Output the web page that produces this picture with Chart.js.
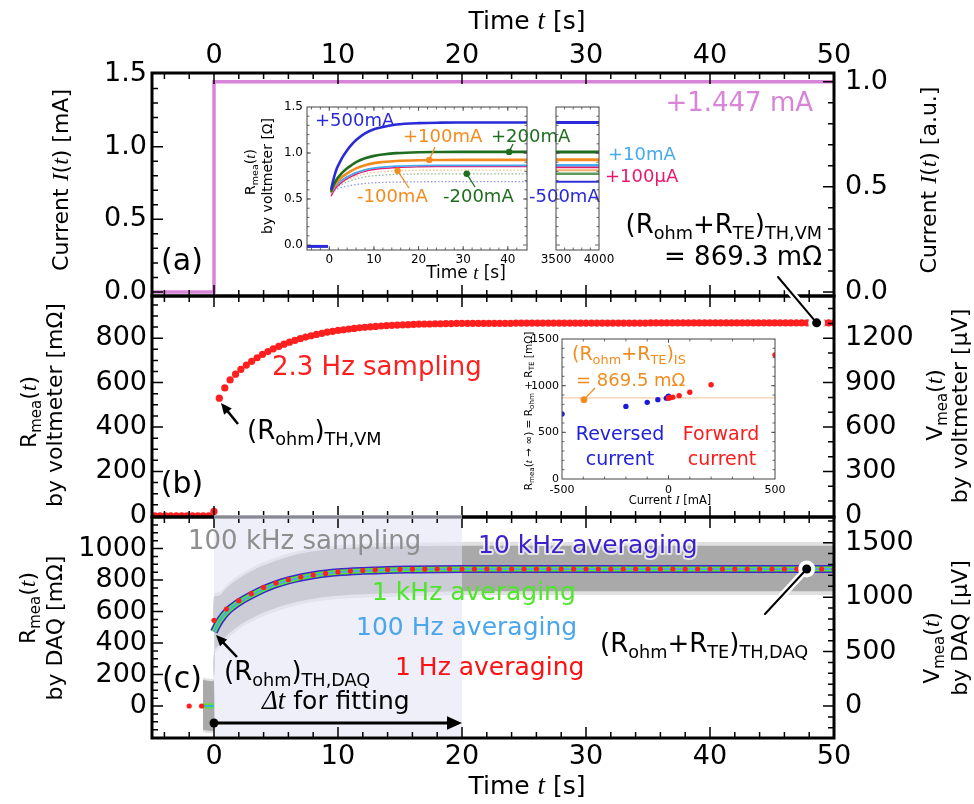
<!DOCTYPE html>
<html>
<head>
<meta charset="utf-8">
<script src="https://cdn.jsdelivr.net/npm/chart.js@4.4.1/dist/chart.umd.min.js"></script>
<style>
html, body { margin: 0; padding: 0; background: #fff; }
#wrap { position: relative; width: 974px; height: 804px; overflow: hidden; background: #fff; }
#wrap canvas { position: absolute; left: 0; top: 0; }
</style>
</head>
<body>
<div id="wrap">
<canvas id="cA" width="974" height="804"></canvas>
<canvas id="cB" width="974" height="804"></canvas>
<canvas id="cC" width="974" height="804"></canvas>
<canvas id="cIA1" width="974" height="804"></canvas>
<canvas id="cIA2" width="974" height="804"></canvas>
<canvas id="cIB" width="974" height="804"></canvas>
</div>
<script>
'use strict';

// ---- (a) current step ----
var stepTime = [-5, 0, 0, 50];
var stepCurrent = [0, 0, 1.447, 1.447];

// ---- (b) voltmeter, 2.3 Hz sampling ----
var vmTime = [-4.78, -4.35, -3.91, -3.48, -3.04, -2.61, -2.17, -1.74, -1.30, -0.87, -0.43, 0,
    0.43, 0.87, 1.30, 1.74, 2.17, 2.61, 3.04, 3.48, 3.91, 4.35, 4.78, 5.22, 5.65, 6.09, 6.52, 6.96,
    7.39, 7.83, 8.26, 8.70, 9.13, 9.57, 10.00, 10.44, 10.87, 11.30, 11.74, 12.17, 12.61, 13.04, 13.48,
    13.91, 14.35, 14.78, 15.22, 15.65, 16.09, 16.52, 16.96, 17.39, 17.83, 18.26, 18.70, 19.13, 19.57,
    20.00, 20.44, 20.87, 21.31, 21.74, 22.17, 22.61, 23.04, 23.48, 23.91, 24.35, 24.78, 25.22, 25.65,
    26.09, 26.52, 26.96, 27.39, 27.83, 28.26, 28.70, 29.13, 29.57, 30.00, 30.44, 30.87, 31.31, 31.74,
    32.17, 32.61, 33.04, 33.48, 33.91, 34.35, 34.78, 35.22, 35.65, 36.09, 36.52, 36.96, 37.39, 37.83,
    38.26, 38.70, 39.13, 39.57, 40.00, 40.44, 40.87, 41.31, 41.74, 42.17, 42.61, 43.04, 43.48, 43.91,
    44.35, 44.78, 45.22, 45.65, 46.09, 46.52, 46.96, 47.39, 47.83, 48.26, 48.70, 49.13, 49.57, 50.00];
var vmR = [0, 0, 0, 0, 0, 0, 0, 0, 0, 0, 0, 20,
    530, 576, 612, 638, 660, 679, 696, 712, 727, 740,
    752, 763, 773, 782, 790, 798, 805, 811, 817, 822,
    827, 831, 835, 838, 841, 844, 847, 849, 851, 853,
    855, 857, 858, 859, 860, 861, 862, 863, 864, 864,
    865, 865, 866, 866, 867, 867,
    867, 867, 867, 867, 867, 867, 867, 867, 867,
    868, 868, 868, 868, 868, 868, 868, 868, 868, 868, 868, 868, 868, 868, 868, 868, 868, 868, 868, 868,
    868, 868, 868, 868, 868,
    869, 869, 869, 869, 869, 869, 869, 869, 869, 869, 869, 869, 869, 869, 869, 869, 869, 869, 869, 869,
    869, 869, 869, 869, 869, 869, 869, 869, 869, 869, 869, 869, 869, 869, 869];
var vmMarker = [48.6, 869.3];

// ---- (c) DAQ ----
var daqBandTime = [-0.9, -0.01, 0, 0.5, 1, 2, 3, 4, 6, 8, 10, 12, 15, 20, 25, 30, 40, 50];
var daqBandHi   = [165, 165, 690, 705, 750, 810, 855, 893, 948, 982, 1000, 1008, 1015, 1018, 1018, 1018, 1018, 1018];
var daqBandLo   = [-150, -150, 345, 395, 445, 510, 555, 593, 647, 681, 700, 709, 717, 728, 728, 728, 728, 728];
var daqSpeckHi  = [180, 180, 712, 725, 770, 830, 875, 913, 968, 1002, 1020, 1029, 1036, 1042, 1042, 1042, 1042, 1042];
var daqSpeckLo  = [-165, -165, 320, 372, 422, 488, 533, 571, 625, 660, 679, 688, 696, 705, 705, 705, 705, 705];
var daqFitTime = [-0.9, -0.02, -0.01, 0, 0.25, 0.5, 1, 1.5, 2, 3, 4, 5, 6, 7, 8, 9, 10, 12, 14, 16, 18, 20, 25, 30, 40, 50];
var daqFitR    = [0, 0, null, 472, 512, 545, 595, 630, 658, 703, 742, 773, 797, 816, 830, 841, 849, 858, 864, 867, 869, 870, 870, 870, 870, 870];
var daq1HzTime = [-2, -1, 0, 1, 2, 3, 4, 5, 6, 7, 8, 9, 10, 11, 12, 13, 14, 15, 16, 17, 18, 19, 20,
    21, 22, 23, 24, 25, 26, 27, 28, 29, 30, 31, 32, 33, 34, 35, 36, 37, 38, 39, 40,
    41, 42, 43, 44, 45, 46, 47, 48, 49, 50];
var daq1HzR = [0, 0, 544, 616, 669, 713, 753, 781, 802, 819, 832, 842, 851, 857, 861, 864, 866, 868, 869, 869, 870, 870, 870,
    870, 870, 870, 870, 870, 870, 870, 870, 870, 870, 870, 870, 870, 870, 870, 870, 870, 870, 870, 870,
    870, 870, 870, 870, 870, 870, 870, 870, 870, 870];
var daqMarker = [47.8, 870];
var fitWindow = [0, 20];

// ---- inset (a): R_mea(t) for several currents ----
var insTime = [0.4, 0.8, 1.2, 1.7, 2.2, 3, 4, 5, 6, 8, 10, 12, 15, 20, 25, 30, 35, 40, 44.3];
var insP500 = [0.600, 0.688, 0.761, 0.834, 0.885, 0.958, 1.031, 1.090, 1.141, 1.214, 1.258, 1.283, 1.309, 1.325, 1.330, 1.331, 1.331, 1.331, 1.331];
var insP200 = [0.580, 0.632, 0.675, 0.718, 0.748, 0.792, 0.835, 0.869, 0.900, 0.943, 0.969, 0.984, 0.999, 1.009, 1.011, 1.012, 1.012, 1.012, 1.012];
var insP100 = [0.570, 0.613, 0.648, 0.684, 0.708, 0.744, 0.779, 0.808, 0.833, 0.868, 0.890, 0.902, 0.914, 0.922, 0.924, 0.925, 0.925, 0.925, 0.925];
var insP10  = [0.560, 0.597, 0.627, 0.658, 0.679, 0.710, 0.741, 0.765, 0.786, 0.817, 0.835, 0.846, 0.857, 0.864, 0.865, 0.866, 0.866, 0.866, 0.866];
var insP01  = [0.530, 0.569, 0.601, 0.633, 0.656, 0.688, 0.721, 0.746, 0.769, 0.801, 0.821, 0.832, 0.843, 0.850, 0.852, 0.853, 0.853, 0.853, 0.853];
var insM100 = [0.560, 0.591, 0.616, 0.641, 0.659, 0.684, 0.710, 0.730, 0.748, 0.773, 0.789, 0.797, 0.806, 0.812, 0.813, 0.814, 0.814, 0.814, 0.814];
var insM200 = [0.560, 0.586, 0.607, 0.628, 0.644, 0.665, 0.686, 0.703, 0.718, 0.740, 0.753, 0.760, 0.768, 0.772, 0.774, 0.774, 0.774, 0.774, 0.774];
var insM500 = [0.570, 0.584, 0.596, 0.608, 0.616, 0.628, 0.640, 0.649, 0.657, 0.669, 0.676, 0.680, 0.684, 0.687, 0.688, 0.688, 0.688, 0.688, 0.688];
var insPreTime = [-5, -0.3];
var insPreR = [-0.015, -0.015];
var insLongTime = [3500, 4000];
var insLongR = [1.331, 1.012, 0.926, 0.868, 0.845, 0.814, 0.774, 0.687];
var insMarkTime = [22.4, 40.3, 15.3, 30.8];
var insMarkR = [0.925, 1.012, 0.807, 0.774];

// ---- inset (b): R_mea(t -> inf) vs current ----
var revI = [-500, -200, -100, -50, -10, -1, -0.1];
var revR = [697, 778, 821, 850, 866, 880, 886];
var fwdI = [0.1, 1, 10, 20, 50, 100, 200, 500];
var fwdR = [866, 869, 873, 877, 893, 929, 1010, 1330];
var isValue = 869.5;
var isMarker = [-397, 850];

var FONT = 'DejaVu Sans';
var SERIF = 'Liberation Serif';
var PINK = '#d884d8';
var RED = '#ff1f1f';
var BLUE = '#2a2ad8';
var GREEN = '#1f6e1f';
var ORANGE = '#f28c1e';
var LBLUE = '#46aaee';
var MAGENTA = '#e8186e';

Chart.defaults.font.family = FONT;
Chart.defaults.color = '#000';
Chart.defaults.animation = false;
Chart.defaults.events = [];
Chart.defaults.plugins.legend.display = false;
Chart.defaults.plugins.tooltip.enabled = false;

function pts(xs, ys) {
    return xs.map(function (x, i) { return {x: x, y: ys[i]}; });
}
function steps(a, b, s) {
    var out = [];
    for (var v = a; v <= b + 1e-9; v += s) out.push(Math.round(v * 1000) / 1000);
    return out;
}
function f1(v) { return v.toFixed(1); }
function fInt(v) { return String(v); }

function yAxis(pos, min, max, ticks, fmt, size, pad, width, show) {
    var ax = {
        type: 'linear', position: pos, min: min, max: max, display: show !== false,
        grid: {display: false, drawTicks: false}, border: {display: false},
        afterBuildTicks: function (s) { s.ticks = ticks.map(function (v) { return {value: v}; }); },
        ticks: {font: {size: size}, color: '#000', padding: pad, autoSkip: false, callback: fmt}
    };
    if (width) ax.afterFit = function (s) { s.width = width; };
    return ax;
}
function xAxis(pos, min, max, ticks, size, pad, height, show) {
    var ax = {
        type: 'linear', position: pos, min: min, max: max, display: show !== false,
        grid: {display: false, drawTicks: false}, border: {display: false},
        afterBuildTicks: function (s) { s.ticks = ticks.map(function (v) { return {value: v}; }); },
        ticks: {font: {size: size}, color: '#000', padding: pad, autoSkip: false, maxRotation: 0, callback: fInt}
    };
    if (height) ax.afterFit = function (s) { s.height = height; };
    return ax;
}

// frame with inward ticks on all four sides
function frame(chart, f) {
    var ctx = chart.ctx, a = chart.chartArea;
    var X = chart.scales.x, Y = chart.scales.y, Y2 = chart.scales.y2 || chart.scales.y;
    ctx.save();
    ctx.strokeStyle = f.color || '#000';
    ctx.lineWidth = f.tw || 1.5;
    ctx.beginPath();
    [[f.xMaj, f.len[0]], [f.xMin, f.len[1]]].forEach(function (p) {
        (p[0] || []).forEach(function (v) {
            var px = X.getPixelForValue(v);
            if (px < a.left + 2 || px > a.right - 2) return;
            ctx.moveTo(px, a.top); ctx.lineTo(px, a.top + p[1]);
            ctx.moveTo(px, a.bottom); ctx.lineTo(px, a.bottom - p[1]);
        });
    });
    [[f.yMaj, f.len[0], Y, a.left, 1], [f.yMin, f.len[1], Y, a.left, 1],
     [f.y2Maj || f.yMaj, f.len[0], Y2, a.right, -1], [f.y2Min || f.yMin, f.len[1], Y2, a.right, -1]].forEach(function (p) {
        (p[0] || []).forEach(function (v) {
            var py = p[2].getPixelForValue(v);
            if (py < a.top + 2 || py > a.bottom - 2) return;
            ctx.moveTo(p[3], py); ctx.lineTo(p[3] + p[4] * p[1], py);
        });
    });
    ctx.stroke();
    ctx.lineWidth = f.lw;
    ctx.strokeRect(a.left, a.top, a.right - a.left, a.bottom - a.top);
    ctx.restore();
}

// text with *italic* parts and _{subscripts}
function parseRich(str) {
    var segs = [], it = false, cur = '', i = 0;
    while (i < str.length) {
        var c = str[i];
        if (c === '*') {
            if (cur) segs.push({t: cur, sub: false, it: it});
            cur = ''; it = !it; i++;
        } else if (c === '_' && str[i + 1] === '{') {
            if (cur) segs.push({t: cur, sub: false, it: it});
            cur = '';
            var j = str.indexOf('}', i);
            segs.push({t: str.slice(i + 2, j), sub: true, it: it});
            i = j + 1;
        } else {
            cur += c; i++;
        }
    }
    if (cur) segs.push({t: cur, sub: false, it: it});
    return segs;
}
function txt(ctx, str, x, y, o) {
    var size = o.size, segs = parseRich(str);
    function fontOf(s) {
        var sz = s.sub ? size * 0.68 : size;
        return s.it ? 'italic ' + (sz * 1.08) + 'px "' + SERIF + '"' : sz + 'px "' + FONT + '"';
    }
    ctx.save();
    ctx.translate(x, y);
    if (o.rot) ctx.rotate(o.rot);
    var w = 0;
    segs.forEach(function (s) { ctx.font = fontOf(s); s.w = ctx.measureText(s.t).width; w += s.w; });
    var cx = o.align === 'left' ? 0 : (o.align === 'right' ? -w : -w / 2);
    ctx.textBaseline = 'middle';
    ctx.textAlign = 'left';
    segs.forEach(function (s) {
        ctx.font = fontOf(s);
        var dy = s.sub ? size * 0.32 : 0;
        if (o.halo) {
            ctx.strokeStyle = o.halo; ctx.lineWidth = 4; ctx.lineJoin = 'round';
            ctx.strokeText(s.t, cx, dy);
        }
        ctx.fillStyle = o.color || '#000';
        ctx.fillText(s.t, cx, dy);
        cx += s.w;
    });
    ctx.restore();
}
function arrow(ctx, x1, y1, x2, y2, head, lw, color) {
    var ang = Math.atan2(y2 - y1, x2 - x1), c = Math.cos(ang), s = Math.sin(ang);
    ctx.save();
    ctx.strokeStyle = ctx.fillStyle = color || '#000';
    ctx.lineWidth = lw;
    ctx.beginPath();
    ctx.moveTo(x1, y1);
    ctx.lineTo(x2 - c * head * 0.8, y2 - s * head * 0.8);
    ctx.stroke();
    ctx.beginPath();
    ctx.moveTo(x2, y2);
    ctx.lineTo(x2 - head * c + head * 0.45 * s, y2 - head * s - head * 0.45 * c);
    ctx.lineTo(x2 - head * c - head * 0.45 * s, y2 - head * s + head * 0.45 * c);
    ctx.closePath();
    ctx.fill();
    ctx.restore();
}
function pointer(ctx, x1, y1, x2, y2, r) {
    ctx.save();
    ctx.lineCap = 'round';
    ctx.strokeStyle = '#fff'; ctx.lineWidth = 7;
    ctx.beginPath(); ctx.moveTo(x1, y1); ctx.lineTo(x2, y2); ctx.stroke();
    ctx.fillStyle = '#fff';
    ctx.beginPath(); ctx.arc(x2, y2, r + 4, 0, Math.PI * 2); ctx.fill();
    ctx.strokeStyle = '#000'; ctx.lineWidth = 2;
    ctx.beginPath(); ctx.moveTo(x1, y1); ctx.lineTo(x2, y2); ctx.stroke();
    ctx.fillStyle = '#000';
    ctx.beginPath(); ctx.arc(x2, y2, r, 0, Math.PI * 2); ctx.fill();
    ctx.restore();
}
function dot(ctx, x, y, r, color) {
    ctx.fillStyle = color;
    ctx.beginPath(); ctx.arc(x, y, r, 0, Math.PI * 2); ctx.fill();
}

var ROT = -Math.PI / 2;

// ================= panel (a) =================
new Chart(document.getElementById('cA'), {
    type: 'line',
    data: {
        datasets: [{data: pts(stepTime, stepCurrent), borderColor: PINK, borderWidth: 3.5, pointRadius: 0, tension: 0}]
    },
    options: {
        responsive: false,
        layout: {padding: {left: 0, right: 0, top: 0, bottom: 508}},
        scales: {
            x: xAxis('top', -5, 50, [0, 10, 20, 30, 40, 50], 27, 1, 73),
            y: yAxis('left', -0.028, 1.507, [0, 0.5, 1, 1.5], f1, 27, 5, 152),
            y2: yAxis('right', -0.0193, 1.0415, [0, 0.5, 1], f1, 27, 11, 140)
        }
    },
    plugins: [{
        id: 'decoA',
        afterDraw: function (chart) {
            var ctx = chart.ctx;
            frame(chart, {lw: 3, tw: 1.5, len: [11, 6],
                xMaj: steps(0, 50, 10), xMin: steps(-4, 48, 2),
                yMaj: [0, 0.5, 1, 1.5], yMin: steps(0.1, 1.4, 0.1),
                y2Maj: [0, 0.5, 1], y2Min: steps(0.1, 1, 0.1)});
            txt(ctx, 'Time *t* [s]', 527, 22, {size: 25});
            txt(ctx, 'Current *I*(*t*) [mA]', 62, 180, {size: 22, rot: ROT});
            txt(ctx, 'Current *I*(*t*) [a.u.]', 930, 180, {size: 22, rot: ROT});
            txt(ctx, '(a)', 182, 262, {size: 30});
            txt(ctx, '+1.447 mA', 813, 104, {size: 26, align: 'right', color: PINK});
            txt(ctx, '(R_{ohm}+R_{TE})_{TH,VM}', 822, 226, {size: 26, align: 'right'});
            txt(ctx, '= 869.3 mΩ', 822, 258, {size: 26, align: 'right'});
        }
    }]
});

// ================= panel (b) =================
new Chart(document.getElementById('cB'), {
    type: 'line',
    data: {
        datasets: [{data: pts(vmTime, vmR), showLine: false, pointRadius: 3.6,
            pointBackgroundColor: RED, pointBorderWidth: 0}]
    },
    options: {
        responsive: false,
        layout: {padding: {left: 0, right: 0, top: 296, bottom: 287}},
        scales: {
            x: xAxis('bottom', -5, 50, [], 27, 0, null, false),
            y: yAxis('left', -5, 990, [0, 200, 400, 600, 800], fInt, 27, 5, 152),
            y2: yAxis('right', -7.5, 1485, [0, 300, 600, 900, 1200], fInt, 27, 11, 140)
        }
    },
    plugins: [{
        id: 'decoB',
        afterDraw: function (chart) {
            var ctx = chart.ctx, X = chart.scales.x, Y = chart.scales.y;
            frame(chart, {lw: 3, tw: 1.5, len: [11, 6],
                xMaj: steps(0, 50, 10), xMin: steps(-4, 48, 2),
                yMaj: steps(0, 800, 200), yMin: steps(50, 950, 50),
                y2Maj: steps(0, 1200, 300), y2Min: steps(100, 1400, 100)});
            txt(ctx, '2.3 Hz sampling', 272, 368, {size: 26, align: 'left', color: RED});
            txt(ctx, '(R_{ohm})_{TH,VM}', 247, 432, {size: 26, align: 'left'});
            arrow(ctx, 238, 424, 221, 403, 11, 2.5);
            txt(ctx, '(b)', 182, 485, {size: 30});
            txt(ctx, 'R_{mea}(*t*)', 30, 412, {size: 22, rot: ROT});
            txt(ctx, 'by voltmeter [mΩ]', 56, 405, {size: 22, rot: ROT});
            txt(ctx, 'V_{mea}(*t*)', 936, 405, {size: 22, rot: ROT});
            txt(ctx, 'by voltmeter [µV]', 961, 406, {size: 22, rot: ROT});
            pointer(ctx, 778, 277, X.getPixelForValue(vmMarker[0]), Y.getPixelForValue(vmMarker[1]), 4.5);
        }
    }]
});

// ================= panel (c) =================
var BOXFILL = 'rgba(226,229,244,0.6)';
new Chart(document.getElementById('cC'), {
    type: 'line',
    data: {
        datasets: [
            {data: pts(daq1HzTime, daq1HzR), showLine: false, pointRadius: 2.6, pointBackgroundColor: RED, pointBorderWidth: 0},
            {data: pts(daqFitTime, daqFitR), borderColor: '#4aa6ea', borderWidth: 2, pointRadius: 0, cubicInterpolationMode: 'monotone', spanGaps: false},
            {data: pts(daqFitTime, daqFitR), borderColor: '#52e82a', borderWidth: 5, pointRadius: 0, cubicInterpolationMode: 'monotone', spanGaps: false},
            {data: pts(daqFitTime.slice(3), daqFitR.slice(3)), borderColor: '#3b24d6', borderWidth: 8, pointRadius: 0, cubicInterpolationMode: 'monotone'},
            {data: pts(daqBandTime, daqBandHi), borderWidth: 0, pointRadius: 0, fill: '+1', backgroundColor: '#a9a9a9', tension: 0.3},
            {data: pts(daqBandTime, daqBandLo), borderWidth: 0, pointRadius: 0, fill: false, tension: 0.3},
            {data: pts(daqBandTime, daqSpeckHi), borderWidth: 0, pointRadius: 0, fill: '+1', backgroundColor: '#e0e0e0', tension: 0.3},
            {data: pts(daqBandTime, daqSpeckLo), borderWidth: 0, pointRadius: 0, fill: false, tension: 0.3}
        ]
    },
    options: {
        responsive: false,
        layout: {padding: {left: 0, right: 0, top: 517, bottom: 0}},
        plugins: {filler: {drawTime: 'beforeDatasetsDraw'}},
        scales: {
            x: xAxis('bottom', -5, 50, [0, 10, 20, 30, 40, 50], 27, 3, 66),
            y: yAxis('left', -203, 1200, [0, 200, 400, 600, 800, 1000], fInt, 27, 5, 152),
            y2: yAxis('right', -294, 1736, [0, 500, 1000, 1500], fInt, 27, 11, 140)
        }
    },
    plugins: [{
        id: 'decoC',
        beforeDatasetsDraw: function (chart) {
            var ctx = chart.ctx, a = chart.chartArea, X = chart.scales.x;
            var x0 = X.getPixelForValue(fitWindow[0]), x1 = X.getPixelForValue(fitWindow[1]);
            ctx.save();
            ctx.fillStyle = BOXFILL;
            ctx.fillRect(x0, a.top - 2, x1 - x0, a.bottom - a.top);
            ctx.restore();
        },
        afterDraw: function (chart) {
            var ctx = chart.ctx, a = chart.chartArea, X = chart.scales.x, Y = chart.scales.y;
            frame(chart, {lw: 3, tw: 1.5, len: [11, 6],
                xMaj: steps(0, 50, 10), xMin: steps(-4, 48, 2),
                yMaj: steps(0, 1000, 200), yMin: steps(-150, 1150, 50),
                y2Maj: steps(0, 1500, 500), y2Min: steps(-200, 1700, 100)});
            var x0 = X.getPixelForValue(fitWindow[0]), x1 = X.getPixelForValue(fitWindow[1]);
            ctx.save();
            ctx.fillStyle = BOXFILL;
            ctx.fillRect(x0, a.top - 2, x1 - x0, 4);
            ctx.restore();

            txt(ctx, '100 kHz sampling', 188, 542, {size: 26, align: 'left', color: '#8e8e8e'});
            txt(ctx, '10 kHz averaging', 478, 546, {size: 25, align: 'left', color: '#3a1fcc', halo: 'rgba(255,255,255,0.7)'});
            txt(ctx, '1 kHz averaging', 372, 593, {size: 25, align: 'left', color: '#4ee62a'});
            txt(ctx, '100 Hz averaging', 356, 628, {size: 25, align: 'left', color: '#4ba6ea'});
            txt(ctx, '1 Hz averaging', 395, 668, {size: 25, align: 'left', color: '#ff1010'});
            txt(ctx, '(R_{ohm})_{TH,DAQ}', 224, 673, {size: 26, align: 'left'});
            arrow(ctx, 237, 657, 216, 635, 11, 2.5);
            txt(ctx, '*Δt* for fitting', 262, 702, {size: 25, align: 'left'});
            txt(ctx, '(c)', 182, 680, {size: 30});
            txt(ctx, '(R_{ohm}+R_{TE})_{TH,DAQ}', 600, 645, {size: 26, align: 'left'});
            // fitting window arrow
            dot(ctx, x0, 723, 4.5, '#000');
            arrow(ctx, x0, 723, x1, 723, 15, 3);
            pointer(ctx, 765, 614, X.getPixelForValue(daqMarker[0]), Y.getPixelForValue(daqMarker[1]), 4.5);
            txt(ctx, 'R_{mea}(*t*)', 29, 608, {size: 22, rot: ROT});
            txt(ctx, 'by DAQ [mΩ]', 56, 628, {size: 22, rot: ROT});
            txt(ctx, 'V_{mea}(*t*)', 933, 648, {size: 22, rot: ROT});
            txt(ctx, 'by DAQ [µV]', 961, 628, {size: 22, rot: ROT});
            txt(ctx, 'Time *t* [s]', 527, 787, {size: 25});
        }
    }]
});

// ================= inset (a), 0-45 s =================
function insLine(ys, color, w, dash) {
    return {data: pts(insTime, ys), borderColor: color, borderWidth: w, borderDash: dash || [],
        pointRadius: 0, cubicInterpolationMode: 'monotone'};
}
new Chart(document.getElementById('cIA1'), {
    type: 'line',
    data: {
        datasets: [
            insLine(insP500, BLUE, 2.6),
            insLine(insP200, GREEN, 2.6),
            insLine(insP100, ORANGE, 2.6),
            insLine(insP10, LBLUE, 1.8),
            insLine(insP01, MAGENTA, 1.4),
            insLine(insM100, 'rgba(242,140,30,0.55)', 1.3, [1.5, 2]),
            insLine(insM200, 'rgba(31,110,31,0.5)', 1.3, [1.5, 2]),
            insLine(insM500, 'rgba(42,42,216,0.5)', 1.3, [1.5, 2]),
            {data: pts(insPreTime, insPreR), borderColor: BLUE, borderWidth: 3, pointRadius: 0}
        ]
    },
    options: {
        responsive: false,
        layout: {padding: {left: 267, right: 447, top: 107, bottom: 534}},
        scales: {
            x: xAxis('bottom', -5, 44.3, [0, 10, 20, 30, 40], 12, 3, 20),
            y: yAxis('left', -0.054, 1.5, [0, 0.5, 1, 1.5], f1, 12, 4, 40)
        }
    },
    plugins: [{
        id: 'decoIA1',
        afterDraw: function (chart) {
            var ctx = chart.ctx, X = chart.scales.x, Y = chart.scales.y;
            frame(chart, {lw: 1, tw: 0.8, color: '#444', len: [4, 2.5],
                xMaj: steps(0, 40, 10), xMin: steps(-4, 44, 2),
                yMaj: [0, 0.5, 1, 1.5], yMin: steps(0.1, 1.4, 0.1)});
            var anchors = [[435, 147], [513, 144], [409, 188], [475, 187]];
            var cols = [ORANGE, GREEN, ORANGE, GREEN];
            insMarkTime.forEach(function (t, i) {
                var px = X.getPixelForValue(t), py = Y.getPixelForValue(insMarkR[i]);
                ctx.save();
                ctx.strokeStyle = cols[i]; ctx.lineWidth = 1.3;
                ctx.beginPath(); ctx.moveTo(px, py); ctx.lineTo(anchors[i][0], anchors[i][1]); ctx.stroke();
                dot(ctx, px, py, 3.2, cols[i]);
                ctx.restore();
            });
            txt(ctx, '+500mA', 315, 121, {size: 18, align: 'left', color: BLUE});
            txt(ctx, '+100mA', 403, 137, {size: 18, align: 'left', color: ORANGE});
            txt(ctx, '+200mA', 491, 137, {size: 18, align: 'left', color: GREEN});
            txt(ctx, '-100mA', 357, 197, {size: 18, align: 'left', color: ORANGE});
            txt(ctx, '-200mA', 443, 197, {size: 18, align: 'left', color: GREEN});
            txt(ctx, '-500mA', 529, 197, {size: 18, align: 'left', color: BLUE});
            txt(ctx, '+10mA', 608, 155, {size: 18, align: 'left', color: LBLUE});
            txt(ctx, '+100µA', 605, 177, {size: 18, align: 'left', color: MAGENTA});
            txt(ctx, 'R_{mea}(*t*)', 251, 172, {size: 14, rot: ROT});
            txt(ctx, 'by voltmeter [Ω]', 268, 176, {size: 14, rot: ROT});
            txt(ctx, 'Time *t* [s]', 466, 274, {size: 17});
        }
    }]
});

// ================= inset (a), 3500-4000 s =================
var longColors = [BLUE, GREEN, ORANGE, LBLUE, MAGENTA, '#f6b06a', '#5c9a5c', '#3232d8'];
var longWidths = [3, 3, 3, 2.5, 2, 2, 2.5, 2];
new Chart(document.getElementById('cIA2'), {
    type: 'line',
    data: {
        datasets: insLongR.map(function (r, i) {
            return {data: pts(insLongTime, [r, r]), borderColor: longColors[i], borderWidth: longWidths[i], pointRadius: 0};
        })
    },
    options: {
        responsive: false,
        layout: {padding: {left: 556, right: 375, top: 107, bottom: 534}},
        scales: {
            x: xAxis('bottom', 3500, 4000, [3500, 4000], 12, 3, 20),
            y: yAxis('left', -0.054, 1.5, [], f1, 12, 0, null, false)
        }
    },
    plugins: [{
        id: 'decoIA2',
        afterDraw: function (chart) {
            frame(chart, {lw: 1, tw: 0.8, color: '#444', len: [4, 2.5],
                xMaj: [3500, 4000], xMin: steps(3600, 3900, 100),
                yMaj: [0, 0.5, 1, 1.5], yMin: steps(0.1, 1.4, 0.1)});
        }
    }]
});

// ================= inset (b) =================
new Chart(document.getElementById('cIB'), {
    type: 'line',
    data: {
        datasets: [
            {data: pts(fwdI, fwdR), showLine: false, pointRadius: 2.7, pointBackgroundColor: '#ff1a1a', pointBorderWidth: 0},
            {data: pts(revI, revR), showLine: false, pointRadius: 2.7, pointBackgroundColor: '#1a1ad8', pointBorderWidth: 0},
            {data: pts([isMarker[0]], [isMarker[1]]), showLine: false, pointRadius: 3.4, pointBackgroundColor: ORANGE, pointBorderWidth: 0},
            {data: pts([-500, 500], [isValue, isValue]), borderColor: 'rgba(247,190,140,0.75)', borderWidth: 1.4, pointRadius: 0}
        ]
    },
    options: {
        responsive: false,
        layout: {padding: {left: 532, right: 199, top: 339, bottom: 305}},
        scales: {
            x: xAxis('bottom', -500, 500, [-500, 0, 500], 11, 5, 20),
            y: yAxis('left', 0, 1500, [0, 500, 1000, 1500], fInt, 11, 3, 30)
        }
    },
    plugins: [{
        id: 'decoIB',
        afterDraw: function (chart) {
            var ctx = chart.ctx, X = chart.scales.x, Y = chart.scales.y;
            frame(chart, {lw: 1, tw: 0.8, color: '#444', len: [4, 2.5],
                xMaj: [-500, 0, 500], xMin: steps(-400, 400, 100),
                yMaj: [0, 500, 1000, 1500], yMin: steps(100, 1400, 100)});
            ctx.save();
            ctx.strokeStyle = ORANGE; ctx.lineWidth = 1.3;
            ctx.beginPath();
            ctx.moveTo(X.getPixelForValue(isMarker[0]), Y.getPixelForValue(isMarker[1]));
            ctx.lineTo(595, 388);
            ctx.stroke();
            ctx.restore();
            txt(ctx, '(R_{ohm}+R_{TE})_{IS}', 572, 355, {size: 19, align: 'left', color: ORANGE});
            txt(ctx, '= 869.5 mΩ', 576, 381, {size: 18, align: 'left', color: ORANGE});
            txt(ctx, 'Reversed', 620, 435, {size: 19, color: '#2020dd'});
            txt(ctx, 'current', 620, 460, {size: 19, color: '#2020dd'});
            txt(ctx, 'Forward', 721, 435, {size: 19, color: '#ff1a1a'});
            txt(ctx, 'current', 722, 460, {size: 19, color: '#ff1a1a'});
            txt(ctx, 'R_{mea}(*t* → ∞) = R_{ohm} + R_{TE} [mΩ]', 529, 411, {size: 10.5, rot: ROT});
            txt(ctx, 'Current *I* [mA]', 670, 501, {size: 11.5});
        }
    }]
});
</script>
</body>
</html>
